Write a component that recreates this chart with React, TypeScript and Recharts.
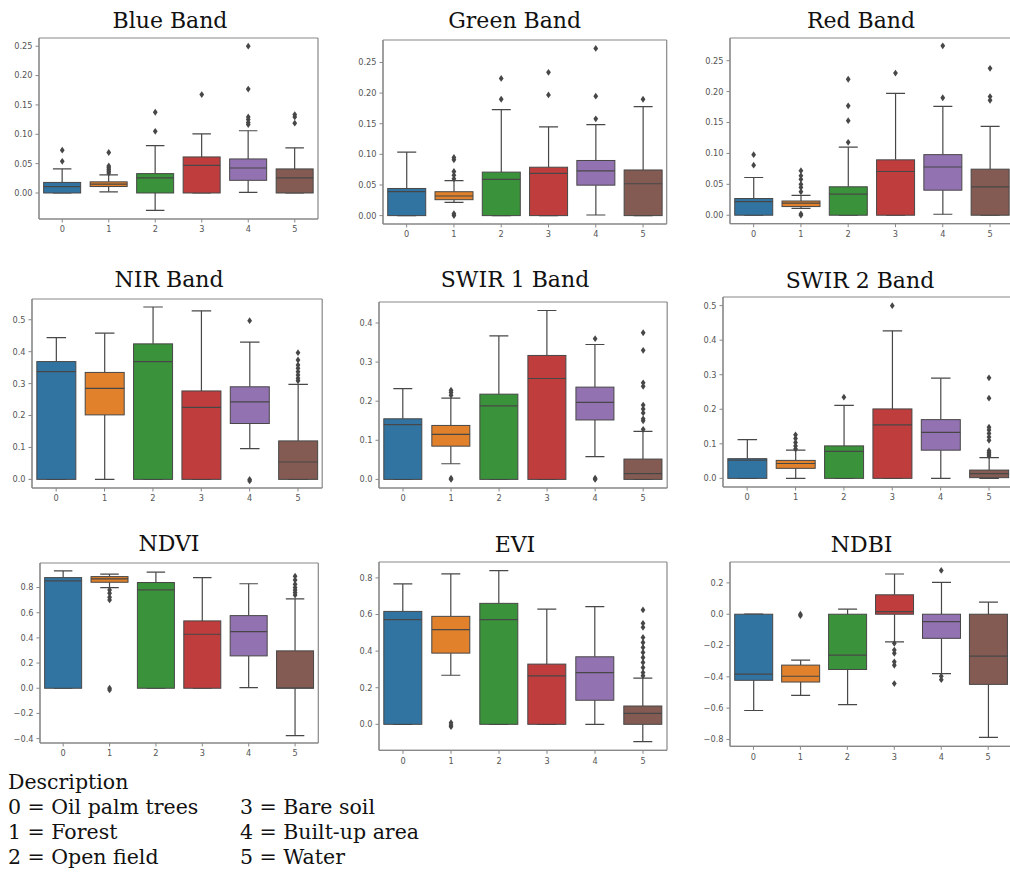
import React from 'react';
import { ComposedChart, Bar, Line, XAxis, YAxis, Cell, CartesianGrid } from 'recharts';

// ---------- data ----------
const CLASSES = ['0', '1', '2', '3', '4', '5'];

// each row: [lowWhisker, q1, median, q3, highWhisker]
const BLUE_BOX = [
  [0, 0, 0.011, 0.018, 0.041],
  [0.002, 0.011, 0.015, 0.019, 0.031],
  [-0.0295, 0, 0.0256, 0.033, 0.0807],
  [0, 0, 0.047, 0.0614, 0.1006],
  [0.001, 0.0216, 0.0426, 0.058, 0.106],
  [0, 0, 0.0256, 0.041, 0.0767],
];
const BLUE_OUT = [
  [0.054, 0.073],
  [0.034, 0.037, 0.04, 0.043, 0.046, 0.069],
  [0.105, 0.1375],
  [0.1676],
  [0.1165, 0.12, 0.125, 0.1295, 0.177, 0.25],
  [0.119, 0.1295, 0.1335],
];

const GREEN_BOX = [
  [0, 0, 0.039, 0.0443, 0.1037],
  [0.0216, 0.026, 0.032, 0.039, 0.057],
  [0, 0, 0.059, 0.071, 0.173],
  [0, 0, 0.069, 0.079, 0.145],
  [0.001, 0.0497, 0.073, 0.09, 0.1485],
  [0, 0, 0.052, 0.0745, 0.178],
];
const GREEN_OUT = [
  [],
  [0, 0.003, 0.06, 0.066, 0.072, 0.091, 0.095],
  [0.19, 0.224],
  [0.197, 0.234],
  [0.158, 0.195, 0.273],
  [0.19],
];

const RED_BOX = [
  [0, 0, 0.022, 0.027, 0.061],
  [0.011, 0.014, 0.0195, 0.023, 0.032],
  [0, 0, 0.034, 0.046, 0.11],
  [0, 0, 0.0707, 0.0896, 0.197],
  [0.0016, 0.0405, 0.078, 0.098, 0.176],
  [0, 0, 0.046, 0.0745, 0.1436],
];
const RED_OUT = [
  [0.081, 0.098],
  [0, 0.002, 0.038, 0.045, 0.05, 0.058, 0.064, 0.072],
  [0.118, 0.153, 0.177, 0.22],
  [0.23],
  [0.19, 0.274],
  [0.186, 0.192, 0.2376],
];

const NIR_BOX = [
  [0, 0, 0.3375, 0.369, 0.444],
  [0, 0.202, 0.285, 0.335, 0.458],
  [0, 0, 0.369, 0.4245, 0.54],
  [0, 0, 0.2254, 0.277, 0.528],
  [0.0964, 0.175, 0.243, 0.29, 0.43],
  [0, 0, 0.0545, 0.1205, 0.2977],
];
const NIR_OUT = [
  [],
  [],
  [],
  [],
  [-0.005, 0, 0.497],
  [0.309, 0.3165, 0.327, 0.3375, 0.348, 0.358, 0.374, 0.397],
];

const SWIR1_BOX = [
  [0, 0, 0.14, 0.155, 0.232],
  [0.04, 0.085, 0.115, 0.138, 0.208],
  [0, 0, 0.188, 0.218, 0.367],
  [0, 0, 0.258, 0.317, 0.432],
  [0.058, 0.152, 0.197, 0.236, 0.345],
  [0, 0, 0.015, 0.052, 0.123],
];
const SWIR1_OUT = [
  [],
  [0, 0.003, 0.215, 0.222, 0.228],
  [],
  [],
  [0, 0.003, 0.36],
  [0.128, 0.15, 0.155, 0.17, 0.18, 0.19, 0.238, 0.247, 0.33, 0.375],
];

const SWIR2_BOX = [
  [0, 0, 0.053, 0.057, 0.112],
  [0, 0.029, 0.043, 0.052, 0.0816],
  [0, 0, 0.078, 0.094, 0.211],
  [0, 0, 0.155, 0.201, 0.427],
  [0, 0.0816, 0.133, 0.17, 0.29],
  [0, 0.002, 0.0136, 0.024, 0.06],
];
const SWIR2_OUT = [
  [],
  [0.085, 0.094, 0.104, 0.1155, 0.126],
  [0.235],
  [0.5],
  [],
  [0.065, 0.07, 0.075, 0.08, 0.11, 0.12, 0.13, 0.14, 0.148, 0.232, 0.291],
];

const NDVI_BOX = [
  [0, 0, 0.853, 0.879, 0.932],
  [0.8, 0.842, 0.869, 0.887, 0.906],
  [0, 0, 0.781, 0.84, 0.922],
  [0, 0, 0.429, 0.535, 0.879],
  [0.005, 0.257, 0.45, 0.577, 0.83],
  [-0.376, 0, 0.002, 0.297, 0.71],
];
const NDVI_OUT = [
  [],
  [-0.013, 0, 0.702, 0.723, 0.755, 0.781],
  [],
  [],
  [],
  [0.74, 0.76, 0.78, 0.8, 0.826, 0.86, 0.89],
];

const EVI_BOX = [
  [0, 0, 0.572, 0.617, 0.767],
  [0.268, 0.389, 0.517, 0.59, 0.822],
  [0, 0, 0.572, 0.661, 0.84],
  [0, 0, 0.265, 0.329, 0.63],
  [0, 0.1315, 0.283, 0.369, 0.643],
  [-0.095, 0, 0.06, 0.1, 0.252],
];
const EVI_OUT = [
  [],
  [-0.013, -0.004, 0.009],
  [],
  [],
  [],
  [0.265, 0.283, 0.31, 0.338, 0.365, 0.393, 0.42, 0.447, 0.475, 0.53, 0.552, 0.625],
];

const NDBI_BOX = [
  [-0.615, -0.422, -0.383, 0, 0],
  [-0.518, -0.433, -0.396, -0.325, -0.293],
  [-0.578, -0.353, -0.261, 0, 0.032],
  [-0.176, 0, 0.017, 0.124, 0.257],
  [-0.379, -0.154, -0.047, 0, 0.203],
  [-0.786, -0.448, -0.268, 0, 0.077],
];
const NDBI_OUT = [
  [],
  [-0.009, 0],
  [],
  [-0.443, -0.326, -0.304, -0.25, -0.229, -0.186],
  [-0.418, -0.396, 0.28],
  [],
];

const TICKS_025 = [0, 0.05, 0.1, 0.15, 0.2, 0.25];
const TICKS_05 = [0, 0.1, 0.2, 0.3, 0.4, 0.5];
const TICKS_04 = [0, 0.1, 0.2, 0.3, 0.4];
const TICKS_NDVI = [-0.4, -0.2, 0, 0.2, 0.4, 0.6, 0.8];
const TICKS_EVI = [0, 0.2, 0.4, 0.6, 0.8];
const TICKS_NDBI = [-0.8, -0.6, -0.4, -0.2, 0, 0.2];

const LEGEND_LEFT = ['0 = Oil palm trees', '1 = Forest', '2 = Open field'];
const LEGEND_RIGHT = ['3 = Bare soil', '4 = Built-up area', '5 = Water'];

// ---------- styles ----------
const PALETTE = ['#3274a1', '#e1812c', '#3a923a', '#c03d3e', '#9372b2', '#845b53'];
const EDGE = '#474747';
const SPINE = '#888';
const TICK_TEXT = '#555';

const PANELS = [
  { title: 'Blue Band', box: BLUE_BOX, out: BLUE_OUT, domain: [-0.0443, 0.264], ticks: TICKS_025, dec: 2 },
  { title: 'Green Band', box: GREEN_BOX, out: GREEN_OUT, domain: [-0.0137, 0.2867], ticks: TICKS_025, dec: 2 },
  { title: 'Red Band', box: RED_BOX, out: RED_OUT, domain: [-0.0137, 0.2867], ticks: TICKS_025, dec: 2 },
  { title: 'NIR Band', box: NIR_BOX, out: NIR_OUT, domain: [-0.027, 0.565], ticks: TICKS_05, dec: 1 },
  { title: 'SWIR 1 Band', box: SWIR1_BOX, out: SWIR1_OUT, domain: [-0.022, 0.4537], ticks: TICKS_04, dec: 1 },
  { title: 'SWIR 2 Band', box: SWIR2_BOX, out: SWIR2_OUT, domain: [-0.025, 0.525], ticks: TICKS_05, dec: 1 },
  { title: 'NDVI', box: NDVI_BOX, out: NDVI_OUT, domain: [-0.435, 0.995], ticks: TICKS_NDVI, dec: 1 },
  { title: 'EVI', box: EVI_BOX, out: EVI_OUT, domain: [-0.142, 0.887], ticks: TICKS_EVI, dec: 1 },
  { title: 'NDBI', box: NDBI_BOX, out: NDBI_OUT, domain: [-0.8435, 0.3335], ticks: TICKS_NDBI, dec: 1 },
];

// plot-area boxes (page px) and title centre/baseline
const LAYOUT = [
  { L: 39.3, T: 38.3, R: 318.3, B: 219.3, tx: 170, tb: 28.3 },
  { L: 383, T: 40, R: 666.7, B: 224, tx: 514.7, tb: 28.3 },
  { L: 729.8, T: 38.3, R: 1013.5, B: 224, tx: 861, tb: 28.3 },
  { L: 31.5, T: 299.3, R: 321.7, B: 488.3, tx: 169, tb: 287.3 },
  { L: 378.5, T: 301.7, R: 666.7, B: 487.7, tx: 515, tb: 287.3 },
  { L: 723.3, T: 296.7, R: 1013.5, B: 486.7, tx: 860, tb: 288.3 },
  { L: 40, T: 562.7, R: 318.3, B: 742.7, tx: 169, tb: 551.7 },
  { L: 378.5, T: 561.7, R: 666.5, B: 750, tx: 515, tb: 552.3 },
  { L: 730.3, T: 561.7, R: 1012, B: 746, tx: 861.7, tb: 552.3 },
];

const Y_AXIS_W = 40;
const X_AXIS_H = 20;
const M_TOP = 5;
const M_RIGHT = 5;

function BoxShape(props: any) {
  const { x, y, width, height, payload, fill } = props;
  if (x == null || y == null || !payload) return <g />;
  const { lo, q1, med, q3, hi } = payload;
  const top = Math.min(y, y + height);
  const bot = Math.max(y, y + height);
  const ppu = (bot - top) / (q3 - q1);
  const py = (v: number) => bot - (v - q1) * ppu;
  const cx = x + width / 2;
  const cap = width * 0.25;
  return (
    <g>
      <line x1={cx} x2={cx} y1={top} y2={py(hi)} stroke={EDGE} strokeWidth={1.2} />
      <line x1={cx} x2={cx} y1={bot} y2={py(lo)} stroke={EDGE} strokeWidth={1.2} />
      <line x1={cx - cap} x2={cx + cap} y1={py(hi)} y2={py(hi)} stroke={EDGE} strokeWidth={1.2} />
      <line x1={cx - cap} x2={cx + cap} y1={py(lo)} y2={py(lo)} stroke={EDGE} strokeWidth={1.2} />
      <rect x={x} y={top} width={width} height={bot - top} fill={fill} stroke={EDGE} strokeWidth={1} />
      <line x1={x} x2={x + width} y1={py(med)} y2={py(med)} stroke={EDGE} strokeWidth={1.2} />
    </g>
  );
}

function Diamond(props: any) {
  const { cx, cy, value, index, dataKey } = props;
  const k = `${dataKey}-${index}`;
  if (value == null || cy == null || cx == null || isNaN(cy)) return <g key={k} />;
  const w = 2.4;
  const h = 3.4;
  return (
    <polygon
      key={k}
      points={`${cx},${cy - h} ${cx + w},${cy} ${cx},${cy + h} ${cx - w},${cy}`}
      fill={EDGE}
      stroke="none"
    />
  );
}

function fmt(dec: number) {
  return (v: number) => (v < -1e-9 ? '\u2212' : '') + Math.abs(v).toFixed(dec);
}

// frame (all four spines) drawn through the grid at the plot-area edges
const frameH = ({ offset }: any) => [offset.top, offset.top + offset.height];
const frameV = ({ offset }: any) => [offset.left, offset.left + offset.width];

function Panel({ p, lay }: { p: any; lay: any }) {
  const maxOut = Math.max(...p.out.map((o: number[]) => o.length));
  const rows = CLASSES.map((c, i) => {
    const [lo, q1, med, q3, hi] = p.box[i];
    const r: any = { cat: c, box: [q1, q3], lo, q1, med, q3, hi };
    for (let k = 0; k < maxOut; k++) r['o' + k] = p.out[i][k] ?? null;
    return r;
  });
  const plotW = lay.R - lay.L;
  const plotH = lay.B - lay.T;
  const width = Y_AXIS_W + plotW + M_RIGHT;
  const height = M_TOP + plotH + X_AXIS_H;
  const tickFont = { fontSize: 8.2, fill: TICK_TEXT, fontFamily: 'DejaVu Sans' };
  return (
    <>
      <div
        style={{
          position: 'absolute',
          left: lay.tx - 150,
          width: 300,
          top: lay.tb - 18.6,
          textAlign: 'center',
          fontFamily: 'DejaVu Serif',
          fontSize: 22,
          lineHeight: '22px',
          color: '#111',
          whiteSpace: 'nowrap',
        }}
      >
        {p.title}
      </div>
      <div style={{ position: 'absolute', left: lay.L - Y_AXIS_W, top: lay.T - M_TOP }}>
        <ComposedChart
          width={width}
          height={height}
          data={rows}
          margin={{ top: M_TOP, right: M_RIGHT, bottom: 0, left: 0 }}
          barCategoryGap="10%"
        >
          <CartesianGrid
            stroke={SPINE}
            strokeWidth={1.2}
            fill="none"
            horizontalCoordinatesGenerator={frameH}
            verticalCoordinatesGenerator={frameV}
          />
          <XAxis
            dataKey="cat"
            interval={0}
            height={X_AXIS_H}
            tickSize={3.5}
            tickMargin={4}
            tick={tickFont}
            stroke={SPINE}
          />
          <YAxis
            type="number"
            domain={p.domain}
            ticks={p.ticks}
            allowDataOverflow
            interval={0}
            width={Y_AXIS_W}
            tickSize={3.5}
            tickMargin={3}
            tick={tickFont}
            tickFormatter={fmt(p.dec)}
            stroke={SPINE}
          />
          <Bar dataKey="box" isAnimationActive={false} shape={BoxShape}>
            {rows.map((_, i) => (
              <Cell key={i} fill={PALETTE[i]} />
            ))}
          </Bar>
          {Array.from({ length: maxOut }, (_, k) => (
            <Line
              key={k}
              dataKey={'o' + k}
              stroke="none"
              dot={Diamond}
              activeDot={false}
              isAnimationActive={false}
              connectNulls={false}
              legendType="none"
            />
          ))}
        </ComposedChart>
      </div>
    </>
  );
}

export default function App() {
  const legendStyle: React.CSSProperties = {
    position: 'absolute',
    fontFamily: 'DejaVu Serif',
    fontSize: 20.5,
    lineHeight: '25px',
    color: '#111',
    whiteSpace: 'nowrap',
  };
  return (
    <div
      style={{
        position: 'absolute',
        left: 0,
        top: 0,
        width: 1010,
        height: 873,
        overflow: 'hidden',
        background: '#fff',
      }}
    >
      {PANELS.map((p, i) => (
        <Panel key={i} p={p} lay={LAYOUT[i]} />
      ))}
      <div style={{ ...legendStyle, left: 8, top: 770.3 }}>
        <div>Description</div>
        {LEGEND_LEFT.map((t) => (
          <div key={t}>{t}</div>
        ))}
      </div>
      <div style={{ ...legendStyle, left: 240, top: 795.3 }}>
        {LEGEND_RIGHT.map((t) => (
          <div key={t}>{t}</div>
        ))}
      </div>
    </div>
  );
}
